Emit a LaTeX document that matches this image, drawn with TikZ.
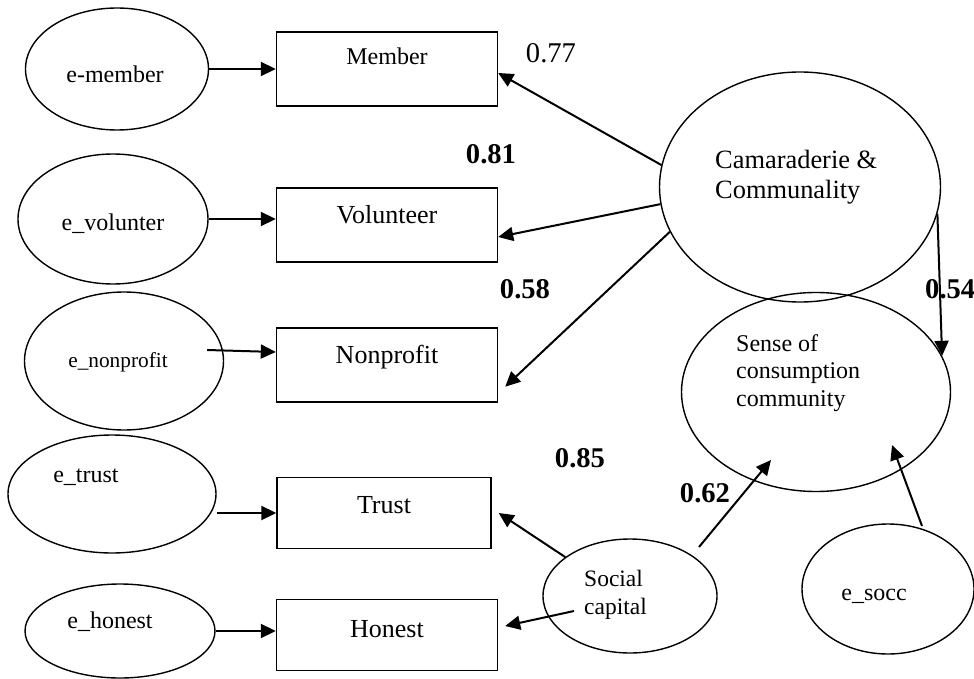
\documentclass[tikz,border=0pt]{standalone}
\usepackage{fontspec}
\setmainfont{Liberation Serif}
\usetikzlibrary{arrows.meta,shapes.geometric}
\begin{document}
\begin{tikzpicture}[x=1pt,y=-1pt]
        \tikzstyle{latent}=[ellipse,draw=black,line width=1.4pt,inner sep=0pt]
        \tikzstyle{indicator}=[rectangle,draw=black,line width=1.4pt,inner sep=0pt]
        \tikzstyle{txt}=[inner sep=0pt,anchor=base]
        \tikzstyle{mtxt}=[inner sep=0pt,anchor=base west,align=left]
        \tikzstyle{coef}=[inner sep=0pt,anchor=base,font=\fontsize{28.6}{30}\selectfont]
        \tikzstyle{edge}=[draw,line width=2pt,-{Triangle[length=15pt,width=14pt]}]
        \useasboundingbox (0,0) rectangle (974,679);
        \begin{scope}
                % error terms
                \node [latent,minimum width=183pt,minimum height=122pt] (emember) at (117,69) {};
                \node [latent,minimum width=190pt,minimum height=130pt] (evol) at (113,219) {};
                \node [latent,minimum width=199pt,minimum height=138pt] (enon) at (124,361) {};
                \node [latent,minimum width=208pt,minimum height=118pt] (etrust) at (112,494) {};
                \node [latent,minimum width=190pt,minimum height=94pt] (ehon) at (120,631) {};
                \node [latent,minimum width=172pt,minimum height=130pt] (esocc) at (888,589) {};
                % indicators
                \node [indicator,minimum width=221pt,minimum height=74pt] (member) at (387,69) {};
                \node [indicator,minimum width=221pt,minimum height=74pt] (vol) at (387,225) {};
                \node [indicator,minimum width=221pt,minimum height=74pt] (nonp) at (387,365) {};
                \node [indicator,minimum width=214pt,minimum height=71pt] (trust) at (384,513) {};
                \node [indicator,minimum width=221pt,minimum height=71pt] (honest) at (387,635) {};
                % factors
                \node [latent,minimum width=281pt,minimum height=230pt] (came) at (800,187) {};
                \node [latent,minimum width=269pt,minimum height=199pt] (sense) at (816,392) {};
                \node [latent,minimum width=174pt,minimum height=114pt] (social) at (630,596) {};
                % texts
                \node [txt,font=\fontsize{24}{28}\selectfont] (temember) at (115,83) {e-member};
                \node [txt,font=\fontsize{24}{28}\selectfont] (tevol) at (113,230) {e\_volunter};
                \node [txt,font=\fontsize{21.3}{25}\selectfont] (tenon) at (118,367) {e\_nonprofit};
                \node [txt,font=\fontsize{24}{28}\selectfont] (tetrust) at (86,482) {e\_trust};
                \node [txt,font=\fontsize{24}{28}\selectfont] (tehon) at (110,628) {e\_honest};
                \node [txt,font=\fontsize{24}{28}\selectfont] (tesocc) at (874,600) {e\_socc};
                \node [txt,font=\fontsize{24}{28}\selectfont] (tmember) at (387,65) {Member};
                \node [txt,font=\fontsize{26}{30}\selectfont] (tvol) at (387,223) {Volunteer};
                \node [txt,font=\fontsize{26}{30}\selectfont] (tnonp) at (387,363) {Nonprofit};
                \node [txt,font=\fontsize{26}{30}\selectfont] (ttrust) at (384,513) {Trust};
                \node [txt,font=\fontsize{26}{30}\selectfont] (thonest) at (387,637) {Honest};
                \node [mtxt,font=\fontsize{26.4}{30}\selectfont] (tcame) at (715,199) {Camaraderie \&\\Communality};
                \node [mtxt,font=\fontsize{24}{27.5}\selectfont] (tsense) at (736,406) {Sense of\\consumption\\community};
                \node [mtxt,font=\fontsize{23.5}{28}\selectfont] (tsocial) at (584,614) {Social\\capital};
                % coefficients
                \node [txt,font=\fontsize{28.6}{30}\selectfont] (c77) at (551,63) {0.77};
                \node [coef] (c81) at (491,164) {\textbf{0.81}};
                \node [coef] (c58) at (525,298) {\textbf{0.58}};
                \node [coef,anchor=base west] (c54) at (925,298) {\textbf{0.54}};
                \node [coef] (c85) at (580,467) {\textbf{0.85}};
                \node [coef] (c62) at (705,502) {\textbf{0.62}};
                % paths
                \path[edge] (emember.east) -- (member.west);
                \path[edge] (evol.east) -- (evol.east -| vol.west);
                \path[edge] ([shift={(-17pt,11pt)}]enon.east) -- ([yshift=13pt]nonp.west);
                \path[edge] (etrust.east |- trust.west) -- (trust.west);
                \path[edge] (ehon.east) -- (ehon.east -| honest.west);
                \path[edge] (came.171) -- ([yshift=-4pt]member.east);
                \path[edge] (came.187) -- ([yshift=-12pt]vol.east);
                \path[edge] (came.199) -- ([shift={(7pt,16pt)}]nonp.south east);
                \path[edge] (came.349) -- (sense.16);
                \path[edge] (social.149) -- ([xshift=7pt]trust.east);
                \path[edge] ([shift={(-56pt,-15pt)}]social.center) -- ([shift={(7pt,9pt)}]honest.east);
                \path[edge] ([shift={(69pt,49pt)}]social.center) -- ([shift={(-45pt,-68pt)}]sense.center);
                \path[edge] ([shift={(34pt,63pt)}]esocc.center) -- ([shift={(76pt,-53pt)}]sense.center);
        \end{scope}
\end{tikzpicture}
\end{document}
